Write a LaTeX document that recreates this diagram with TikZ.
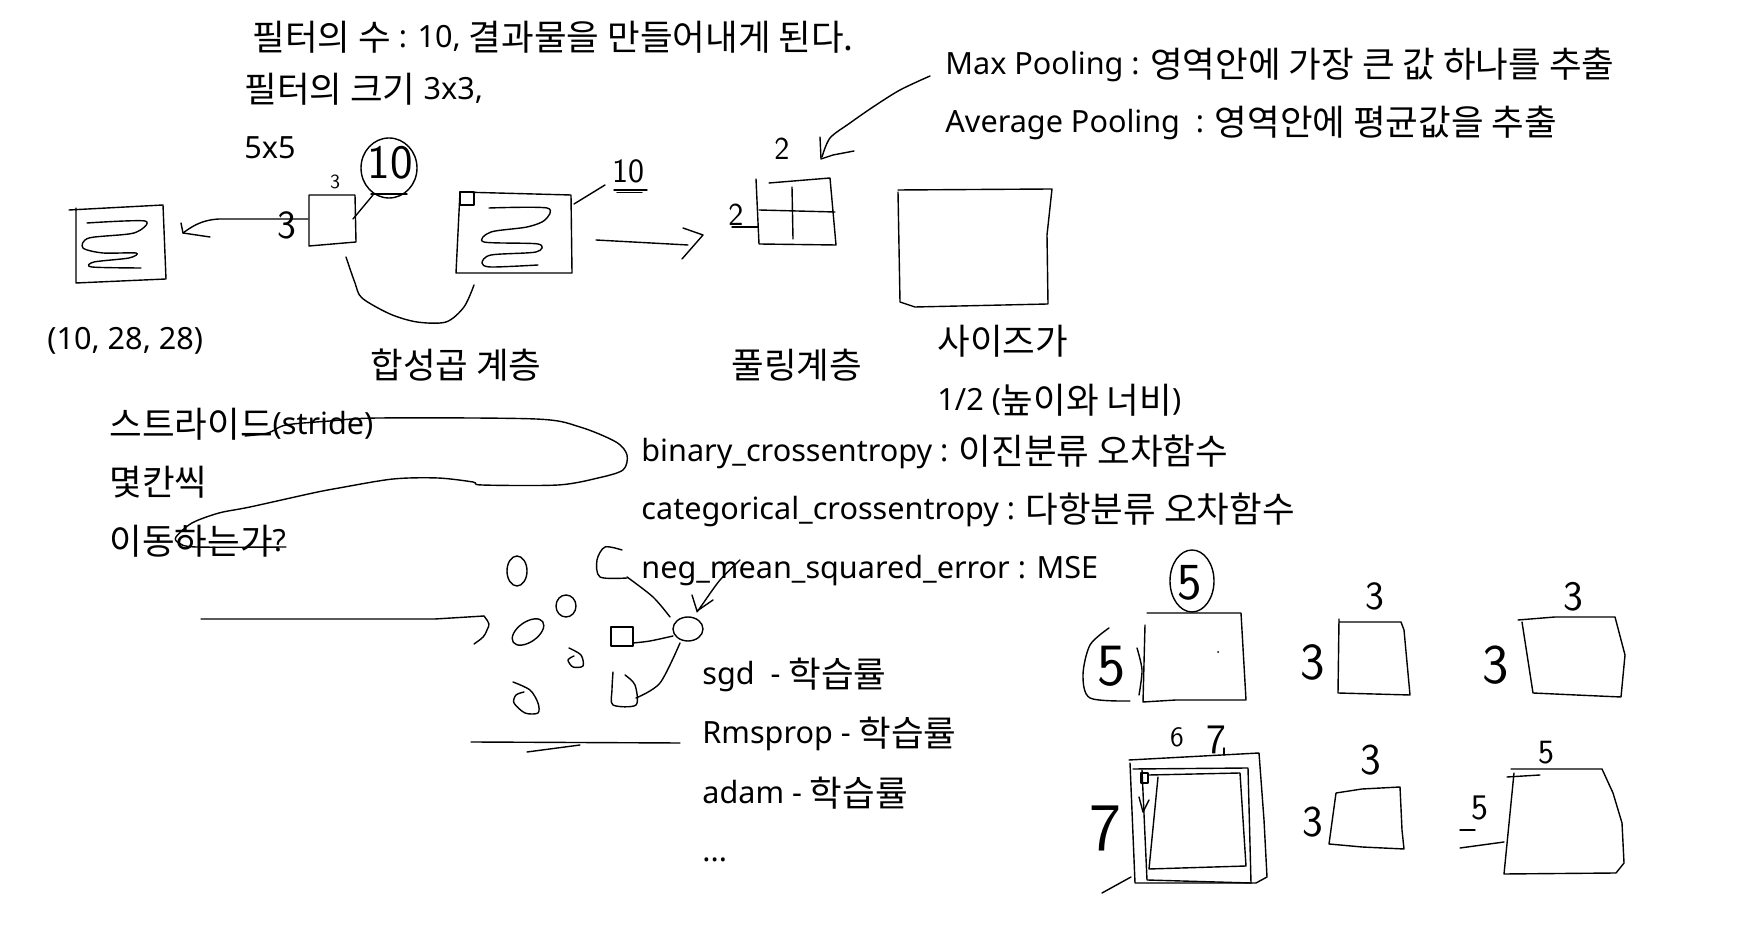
\documentclass[tikz,border=0pt]{standalone}
\usepackage{fontspec}
\setmainfont{Noto Sans}
\newfontfamily\krfont[Scale=1.16]{Noto Sans CJK KR}
\newcommand\K[1]{\raisebox{-1.2pt}{\krfont #1}}
\begin{document}
\begin{tikzpicture}[x=0.5pt,y=-0.5pt,line join=round,line cap=round,
 txt/.style={anchor=base west,inner sep=0,font=\fontsize{15.3}{18}\selectfont},
 hand/.style={inner sep=0,font=\sffamily\fontsize{#1}{#1}\selectfont},
 hand/.default=18,
 sk/.style={draw=black,line width=0.7pt}]
\useasboundingbox (0,0) rectangle (1757,929);
\fill[white] (0,0) rectangle (1757,929);
% ---------- texts ----------
\node[txt] (t1) at (252,48) {\K{필터의 수} : 10, \K{결과물을 만들어내게 된다.}};
\node[txt] (t2) at (244,100) {\K{필터의 크기} 3x3,};
\node[txt] (t3) at (244,159) {5x5};
\node[txt] (t4) at (47,350) {(10, 28, 28)};
\node[txt] (t5) at (370,376) {\K{합성곱 계층}};
\node[txt] (t6) at (731,376) {\K{풀링계층}};
\node[txt] (t7) at (937,352) {\K{사이즈가}};
\node[txt] (t8) at (937,411) {1/2 (\K{높이와 너비})};
\node[txt] (t9) at (945,75) {Max Pooling : \K{영역안에 가장 큰 값 하나를 추출}};
\node[txt] (t10) at (945,133) {Average Pooling~~: \K{영역안에 평균값을 추출}};
\node[txt] (t11) at (109,435) {\K{스트라이드}(stride)};
\node[txt] (t12) at (109,493) {\K{몇칸씩}};
\node[txt] (t13) at (109,552) {\K{이동하는가}?};
\node[txt] (t14) at (641,462) {binary\_crossentropy : \K{이진분류 오차함수}};
\node[txt] (t15) at (641,520) {categorical\_crossentropy : \K{다항분류 오차함수}};
\node[txt] (t16) at (641,579) {neg\_mean\_squared\_error : MSE};
\node[txt] (t17) at (702,685) {sgd~~- \K{학습률}};
\node[txt] (t18) at (702,744) {Rmsprop - \K{학습률}};
\node[txt] (t19) at (702,804) {adam - \K{학습률}};
\node[txt] (t20) at (702,862) {...};
% ---------- input box ----------
\draw[sk] (69,210) -- (163,205) -- (166,279) -- (76,283) -- (76,208);
\draw[sk] plot[smooth,tension=0.5] coordinates {(87,223) (145,221) (134,233) (89,238) (83,248) (103,253) (136,253) (129,258) (94,262) (92,267) (141,268)};
% arrow filter -> input
\draw[sk] (308,219) -- (219,219) .. controls (200,220) and (190,228) .. (183,233);
\draw[sk] (181,223) -- (183,233) -- (210,237);
% filter box
\draw[sk] (309,195) -- (355,195) -- (356,242) -- (309,246) -- cycle;
\node[hand=10] (h1) at (335,182) {3};
\node[hand=20] (h2) at (287,225) {3};
\draw[sk] (389,168) ellipse (28 and 30);
\node[hand=24] (h3) at (390,163) {10};
\draw[sk] (371,194) -- (407,194);
\draw[sk] (373,195) -- (353,219);
% curve below
\draw[sk] plot[smooth] coordinates {(346,257) (355,283) (362,298) (390,314) (417,322) (446,322) (464,307) (474,285)};
% conv box
\draw[sk] (460,192) -- (571,195) -- (572,273) -- (456,273) -- (460,192);
\draw[sk] (460,192) rectangle (474,205);
\draw[sk] plot[smooth,tension=0.5] coordinates {(489,208) (547,208) (545,220) (527,227) (491,232) (484,242) (538,244) (536,252) (491,255) (482,263) (491,267) (538,265)};
\draw[sk] (574,204) -- (605,185);
\node[hand=17] (h4) at (628,171) {10};
\draw[sk] (614,190) -- (647,190);
\draw[sk] (617,192.5) -- (642,192.5);
% arrow to pooling
\draw[sk] (596,240) -- (688,245);
\draw[sk] (683,228) -- (703,235) -- (682,259);
% pooling grid
\draw[sk] (769,183) -- (830,178) -- (836,245) -- (759,244) -- (756,179);
\draw[sk] (759,210) -- (835,212);
\draw[sk] (792,187) -- (793,239);
\node[hand=16] (h5) at (782,149) {2};
\node[hand=16] (h6) at (736,215) {2};
\draw[sk] (732,227) -- (758,227);
% arrow from Max Pooling
\draw[sk] plot[smooth] coordinates {(930,76) (900,90) (873,107) (850,123) (830,138) (822,157)};
\draw[sk] (820,137) -- (821,159) -- (833,155) -- (854,151);
% pooled output box
\draw[sk] (898,190) -- (1052,189) -- (1047,235) -- (1048,304) -- (915,307) -- (900,302) -- (898,192);
% ---------- stride loop ----------
\draw[sk] plot[smooth] coordinates {(245,436) (268,433) (286,425) (330,421) (379,418) (536,419) (580,427) (616,442) (627,455) (623,470) (598,478) (558,485) (482,485) (473,482) (438,478) (393,479) (339,488) (313,493) (250,507) (219,513) (192,523) (176,537) (179,543) (196,547) (286,547)};
% ---------- network sketch ----------
\draw[sk] (201,619) -- (435,619) -- (484,616);
\draw[sk] (484,616) .. controls (490,624) .. (487,630) .. controls (484,637) .. (474,644);
\draw[sk] (517,571) ellipse (10 and 15);
\draw[sk] (566,606) ellipse (10 and 11);
\draw[sk,rotate around={35:(528,632)}] (528,632) ellipse (18 and 10);
\draw[sk] plot[smooth] coordinates {(569,648) (581,655) (583,666) (573,667) (568,660) (574,656)};
\draw[sk] plot[smooth] coordinates {(513,682) (530,690) (538,703) (538,713) (525,713) (514,703) (516,695) (524,692)};
\draw[sk] plot[smooth] coordinates {(622,550) (605,547) (597,560) (600,577) (627,578)};
\draw[sk] (611,627) rectangle (633,646);
\draw[sk] plot[smooth] coordinates {(613,672) (612,690) (613,705) (636,705) (635,685) (625,675)};
\draw[sk] (688,629) ellipse (15 and 12);
\draw[sk] plot[smooth] coordinates {(627,577) (653,597) (670,617)};
\draw[sk] plot[smooth] coordinates {(633,643) (650,641) (673,636)};
\draw[sk] plot[smooth] coordinates {(636,698) (660,683) (680,643)};
\draw[sk] plot[smooth] coordinates {(740,560) (720,580) (702,605) (697,612)};
\draw[sk] (692,595) -- (697,611) -- (713,600);
\draw[sk] (471,742) -- (680,743);
\draw[sk] (527,752) -- (580,745);
% ---------- right boxes, top row ----------
\draw[sk] (1147,613) -- (1241,613) -- (1246,700) -- (1176,700) -- (1143,702) -- (1145,625);
\draw[sk] (1192,581) ellipse (22 and 31);
\node[hand=26] (h7) at (1190,583) {5};
\draw[sk] plot[smooth] coordinates {(1109,628) (1090,645) (1083,675) (1090,698) (1130,701)};
\draw[sk] plot[smooth] coordinates {(1137,648) (1142,670) (1139,695)};
\node[hand=30] (h8) at (1112,666) {5};
\fill (1218,652) circle (1);
\draw[sk] (1339,622) -- (1401,622) -- (1404,630) -- (1410,695) -- (1338,693) -- (1339,619);
\node[hand=20] (h9) at (1375,596) {3};
\node[hand=26] (h10) at (1313,662) {3};
\draw[sk] (1518,620) -- (1555,617) -- (1615,617) -- (1625,655) -- (1621,697) -- (1576,695) -- (1533,693) -- (1522,622);
\node[hand=21] (h11) at (1573,597) {3};
\node[hand=28] (h12) at (1496,665) {3};
% ---------- right boxes, bottom row ----------
\draw[sk] (1129,760) -- (1259,753) -- (1264,820) -- (1267,877) -- (1256,883) -- (1135,883) -- (1130,763);
\draw[sk] (1133,769) -- (1248,768) -- (1251,883);
\draw[sk] (1251,883) -- (1147,880) -- (1142,770);
\draw[sk] (1149,775) -- (1240,773) -- (1246,866) -- (1149,869) -- (1158,777);
\draw[sk] (1141,773) rectangle (1148,783);
\draw[sk] (1139,797) -- (1143,812) -- (1149,800);
\node[hand=14] (h13) at (1177,737) {6};
\node[hand=21] (h14) at (1216,740) {7};
\draw[sk] (1224,748) -- (1224,755);
\node[hand=34] (h15) at (1105,828) {7};
\draw[sk] (1102,893) -- (1131,877);
\draw[sk] (1336,793) -- (1362,789) -- (1400,787) -- (1402,830) -- (1404,849) -- (1362,847) -- (1329,844) -- (1336,793);
\node[hand=22] (h16) at (1371,760) {3};
\node[hand=22] (h17) at (1313,822) {3};
\draw[sk] (1511,769) -- (1602,769) -- (1613,793) -- (1622,823) -- (1624,863) -- (1616,873) -- (1504,874) -- (1514,773);
\draw[sk] (1507,777) -- (1540,775);
\node[hand=17] (h18) at (1546,753) {5};
\node[hand=18] (h19) at (1480,808) {5};
\draw[sk] (1460,830) -- (1475,830);
\draw[sk] (1460,848) -- (1504,842);
\end{tikzpicture}
\end{document}
